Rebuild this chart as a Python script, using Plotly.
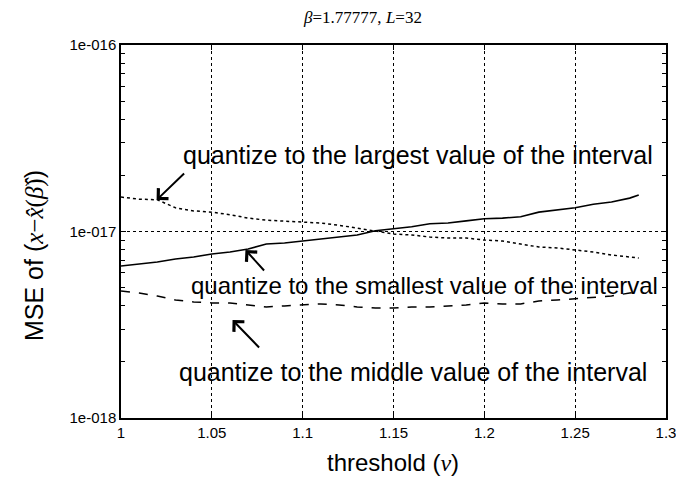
import plotly.graph_objects as go

# threshold values (nu)
threshold = [1.00, 1.01, 1.02, 1.03, 1.04, 1.05, 1.06, 1.07, 1.08, 1.09,
             1.10, 1.11, 1.12, 1.13, 1.14, 1.15, 1.16, 1.17, 1.18, 1.19,
             1.20, 1.21, 1.22, 1.23, 1.24, 1.25, 1.26, 1.27, 1.28, 1.285]

# MSE, in units of 1e-18
mse_largest = [15.3, 14.9, 14.8, 13.4, 12.9, 12.7, 12.3, 11.8, 11.5, 11.4,
               11.2, 11.1, 10.8, 10.4, 10.1, 9.70, 9.58, 9.34, 9.23, 9.23,
               9.00, 8.89, 8.57, 8.26, 8.16, 7.96, 7.76, 7.48, 7.30, 7.21]
mse_smallest = [6.53, 6.70, 6.86, 7.12, 7.30, 7.58, 7.76, 8.06, 8.57, 8.68,
                8.89, 9.12, 9.34, 9.58, 10.1, 10.3, 10.6, 11.0, 11.1, 11.4,
                11.7, 11.8, 12.0, 12.7, 13.0, 13.4, 14.0, 14.4, 15.1, 15.7]
mse_middle = [4.80, 4.68, 4.51, 4.29, 4.19, 4.14, 4.14, 4.04, 3.94, 3.99,
              4.04, 4.09, 4.04, 3.94, 3.89, 3.89, 3.94, 3.94, 3.99, 4.04,
              4.14, 4.09, 4.09, 4.24, 4.29, 4.35, 4.45, 4.51, 4.68, 4.74]

x_ticks = [1, 1.05, 1.1, 1.15, 1.2, 1.25, 1.3]
x_ticktext = ["1", "1.05", "1.1", "1.15", "1.2", "1.25", "1.3"]
y_ticks = [1e-18, 1e-17, 1e-16]
y_ticktext = ["1e-018", "1e-017", "1e-016"]

SANS = "Liberation Sans, Arial, sans-serif"
SERIF = "Liberation Serif, Times New Roman, serif"

def scale(vals):
    return [v * 1e-18 for v in vals]

fig = go.Figure()
fig.add_trace(go.Scatter(x=threshold, y=scale(mse_largest), mode="lines",
                         line=dict(color="black", width=1.5, dash="dot")))
fig.add_trace(go.Scatter(x=threshold, y=scale(mse_smallest), mode="lines",
                         line=dict(color="black", width=1.6)))
fig.add_trace(go.Scatter(x=threshold, y=scale(mse_middle), mode="lines",
                         line=dict(color="black", width=1.5, dash="dash")))

# page body has an 8px margin, so the figure starts at (8, 8) on the page
OFF = 8
FW, FH = 684 - OFF, 485 - 2 * OFF
# plot area in page pixels; right edge pulled in so the "1.3" label stays visible
L, R, T, B = 121, 666, 45, 418
W, H = R - L, B - T

def px(xp):
    return (xp - L) / W

def py(yp):
    return (B - yp) / H

labels = [
    ("quantize to the largest value of the interval", 418, 155, 25),
    ("quantize to the smallest value of the interval", 424, 285, 24),
    ("quantize to the middle value of the interval", 413, 372, 25),
]
annotations = []
for text, xp, yp, size in labels:
    annotations.append(dict(text=text, x=px(xp), y=py(yp), xref="paper", yref="paper",
                            showarrow=False, xanchor="center", yanchor="middle",
                            font=dict(family=SANS, size=size, color="black")))

# arrows: head (in data coords) and pixel offset to tail
arrows = [(1.0196, -16.831, 29, -28), (1.0685, -17.099, 20, 22), (1.0614, -17.4745, 28, 29)]
for hx, hy, dx, dy in arrows:
    annotations.append(dict(text="", x=hx, y=hy, xref="x", yref="y", ax=dx, ay=dy,
                            showarrow=True, arrowhead=4, arrowsize=1.4, arrowwidth=2,
                            arrowcolor="black"))

annotations.append(dict(
    text="MSE of (<span style='font-family:Liberation Serif'><i>x</i>\u2212<i>x\u0302</i>(<i>\u03b2\u0302</i>)</span>)",
    x=px(35), y=py(256), xref="paper", yref="paper", textangle=-90,
    xanchor="center", yanchor="middle",
    showarrow=False, font=dict(family=SANS, size=25, color="black")))
annotations.append(dict(
    text="threshold (<span style='font-family:Liberation Serif'><i>\u03bd</i></span>)",
    x=px(393), y=py(462), xref="paper", yref="paper",
    xanchor="center", yanchor="middle",
    showarrow=False, font=dict(family=SANS, size=24, color="black")))

fig.update_layout(
    width=FW, height=FH,
    margin=dict(l=L - OFF, r=684 - R, t=T - OFF, b=485 - OFF - B),
    paper_bgcolor="white", plot_bgcolor="white",
    showlegend=False,
    title=dict(text="<i>\u03b2</i>=1.77777, <i>L</i>=32", x=(363 - OFF) / FW, y=1 - (17 - OFF) / FH,
               xanchor="center", yanchor="middle", xref="container", yref="container",
               font=dict(family=SERIF, size=17, color="black")),
    annotations=annotations,
)
fig.update_xaxes(range=[1, 1.3], tickvals=x_ticks, ticktext=x_ticktext, automargin=False,
                 showline=True, linecolor="black", linewidth=1.5, mirror="ticks",
                 ticks="inside", ticklen=5, tickcolor="black", ticklabeloverflow="allow",
                 showgrid=True, gridcolor="black", griddash="dot", gridwidth=0.8,
                 zeroline=False, tickfont=dict(family=SANS, size=15, color="black"))
fig.update_yaxes(type="log", range=[-18, -16], tickvals=y_ticks, ticktext=y_ticktext, automargin=False,
                 showline=True, linecolor="black", linewidth=1.5, mirror="ticks",
                 ticks="inside", ticklen=5, tickcolor="black",
                 minor=dict(ticks="inside", ticklen=4, tickcolor="black", dtick="D1", showgrid=False),
                 showgrid=True, gridcolor="black", griddash="dot", gridwidth=0.8,
                 zeroline=False, tickfont=dict(family=SANS, size=15, color="black"))

fig.write_html("out.html")
